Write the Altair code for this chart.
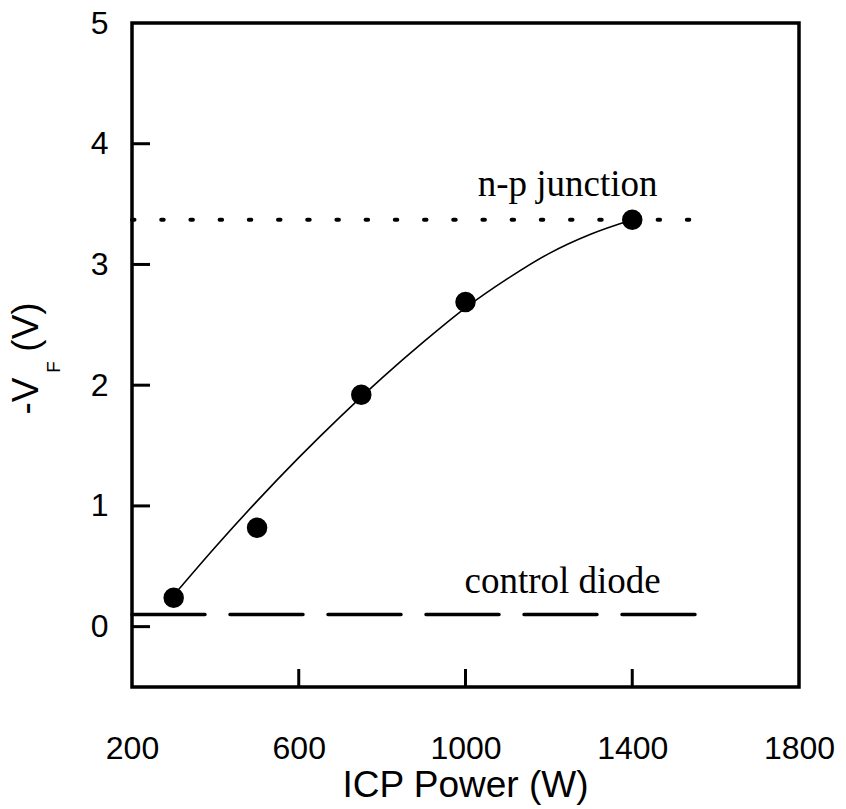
import altair as alt
import pandas as pd

# measured data points
power = [300, 500, 750, 1000, 1400]
vf = [0.24, 0.82, 1.92, 2.69, 3.37]

# fitted curve
fit_power = [300, 400, 500, 600, 700, 800, 900, 1000, 1100, 1200, 1300, 1400]
fit_vf = [0.26, 0.66, 1.04, 1.40, 1.74, 2.06, 2.36, 2.64, 2.88, 3.09, 3.25, 3.37]

# reference levels
np_level = 3.37
control_level = 0.10
ref_x = [200, 1560]

# annotations
ann_text = ["n-p junction", "control diode"]
ann_x = [1245, 1233]
ann_y = [3.57, 0.28]

x_ticks = [200, 600, 1000, 1400, 1800]
y_ticks = [0, 1, 2, 3, 4, 5]
x_inner_ticks = [600, 1000, 1400]
y_inner_ticks = [0, 1, 2, 3, 4]

pts = pd.DataFrame({"p": power, "v": vf})
fit = pd.DataFrame({"p": fit_power, "v": fit_vf})
np_df = pd.DataFrame({"p": ref_x, "v": [np_level] * 2})
cd_df = pd.DataFrame({"p": ref_x, "v": [control_level] * 2})
ann = pd.DataFrame({"t": ann_text, "p": ann_x, "v": ann_y})
xt = pd.DataFrame({"p": x_inner_ticks})
yt = pd.DataFrame({"v": y_inner_ticks})

xs = alt.Scale(domain=[200, 1800], nice=False, zero=False)
ys = alt.Scale(domain=[-0.5, 5], nice=False, zero=False)

xaxis = alt.Axis(values=x_ticks, format="d", ticks=False, tickSize=0, domain=False, grid=False,
                 labelFont="Liberation Sans", labelFontSize=32, labelColor="black",
                 labelPadding=46, labelFlush=False, labelOverlap=False, title=None)
yaxis = alt.Axis(values=y_ticks, format="d", ticks=False, tickSize=0, domain=False, grid=False,
                 labelFont="Liberation Sans", labelFontSize=32, labelColor="black",
                 labelPadding=24, labelOverlap=False, title=None)

base_x = alt.X("p:Q", scale=xs, axis=xaxis)
base_y = alt.Y("v:Q", scale=ys, axis=yaxis)

curve = alt.Chart(fit).mark_line(color="black", strokeWidth=1.6, interpolate="monotone").encode(
    x=base_x, y=base_y)
dots = alt.Chart(pts).mark_circle(color="black", opacity=1, size=420).encode(
    x=alt.X("p:Q", scale=xs), y=alt.Y("v:Q", scale=ys))
npline = alt.Chart(np_df).mark_line(color="black", strokeWidth=4, strokeDash=[2.5, 26.7],
                                    strokeCap="round").encode(
    x=alt.X("p:Q", scale=xs), y=alt.Y("v:Q", scale=ys))
cdline = alt.Chart(cd_df).mark_line(color="black", strokeWidth=3.5, strokeDash=[73, 25],
                                    strokeCap="round").encode(
    x=alt.X("p:Q", scale=xs), y=alt.Y("v:Q", scale=ys))
anns = alt.Chart(ann).mark_text(font="Liberation Serif", fontSize=37, color="black",
                                baseline="alphabetic", align="center").encode(
    x=alt.X("p:Q", scale=xs), y=alt.Y("v:Q", scale=ys), text="t:N")

xtick = alt.Chart(xt).mark_rule(color="black", strokeWidth=3).encode(
    x=alt.X("p:Q", scale=xs), y=alt.value(664), y2=alt.value(646))
ytick = alt.Chart(yt).mark_rule(color="black", strokeWidth=3).encode(
    y=alt.Y("v:Q", scale=ys), x=alt.value(0), x2=alt.value(18))

xtitle = alt.Chart(pd.DataFrame({"t": ["ICP Power (W)"]})).mark_text(
    font="Liberation Sans", fontSize=37, color="black", baseline="alphabetic", align="center"
).encode(text="t:N", x=alt.value(333.5), y=alt.value(774))

yt1 = alt.Chart(pd.DataFrame({"t": ["-V"]})).mark_text(
    font="Liberation Sans", fontSize=37, color="black", baseline="middle", align="center", angle=270
).encode(text="t:N", x=alt.value(-105), y=alt.value(373))
yt2 = alt.Chart(pd.DataFrame({"t": ["F"]})).mark_text(
    font="Liberation Sans", fontSize=19, color="black", baseline="middle", align="center", angle=270
).encode(text="t:N", x=alt.value(-78), y=alt.value(344))
yt3 = alt.Chart(pd.DataFrame({"t": ["(V)"]})).mark_text(
    font="Liberation Sans", fontSize=37, color="black", baseline="middle", align="center", angle=270
).encode(text="t:N", x=alt.value(-105), y=alt.value(304))

chart = alt.layer(curve, npline, cdline, dots, anns, xtick, ytick, xtitle, yt1, yt2, yt3).properties(
    width=667, height=664,
    autosize=alt.AutoSizeParams(type="none"),
    padding={"left": 132, "top": 23, "right": 47, "bottom": 122},
    background="white",
).configure_view(stroke="black", strokeWidth=3.5, fill="white")

chart.save("out.html", embed_options={"renderer": "svg", "actions": False})
